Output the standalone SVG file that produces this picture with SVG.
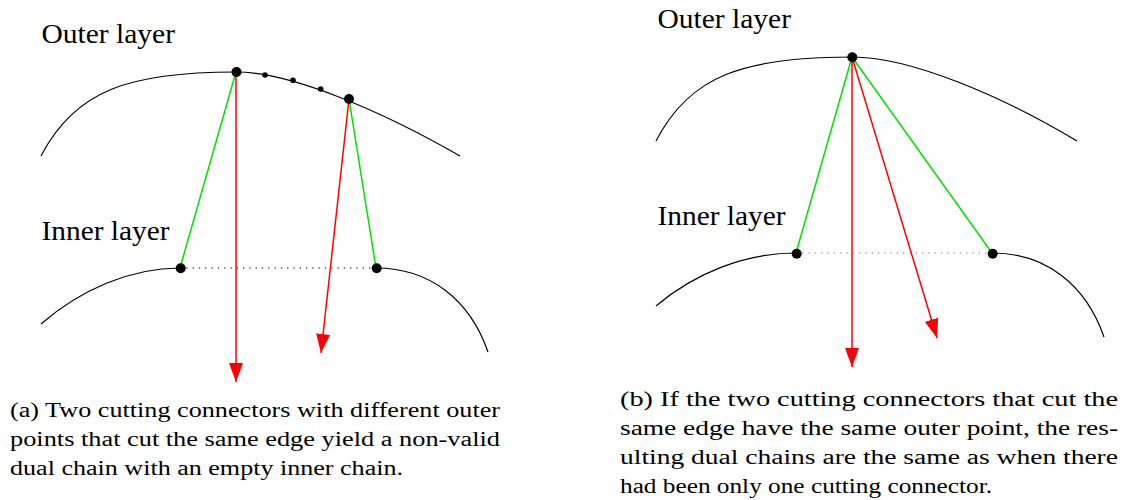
<svg xmlns="http://www.w3.org/2000/svg" width="1142" height="500" viewBox="0 0 1142 500">
<style>
.lbl{font-family:"Liberation Serif","DejaVu Serif",serif;font-size:27px;fill:#000}
.cap{font-family:"Liberation Serif","DejaVu Serif",serif;font-size:20.5px;fill:#000}
.layer{fill:none;stroke:#000;stroke-width:1.2}
.green{stroke:#00e000;stroke-width:1.5;fill:none}
.red{stroke:#ff0000;stroke-width:1.5;fill:none;marker-end:url(#ah)}
.dot{fill:#000}
</style>
<defs>
<marker id="ah" markerUnits="userSpaceOnUse" markerWidth="20" markerHeight="16" viewBox="0 0 20 16" refX="19" refY="8" orient="auto">
<path d="M0,1 L19,8 L0,15 Z" fill="#ff0000"/>
</marker>
</defs>
<rect width="1142" height="500" fill="#fff"/>

<g id="panel-a">
<g id="a-outer-layer">
<text class="lbl" x="41.5" y="43.3" textLength="133.5" lengthAdjust="spacingAndGlyphs">Outer layer</text>
<path class="layer" d="M41,156 C75,90 130,72 236,72 C290,72 380,110 460,156"/>
</g>
<g id="a-inner-layer">
<text class="lbl" x="41.5" y="239.5" textLength="128" lengthAdjust="spacingAndGlyphs">Inner layer</text>
<path class="layer" d="M41,324 C80,290 130,268 180,268"/>
<path class="layer" d="M376,268 C430,268 470,300 488,352"/>
<path d="M180,268 L376,268" fill="none" stroke="#000" stroke-width="1.2" stroke-dasharray="1.3 5"/>
</g>
<g id="a-connectors">
<path class="green" d="M236,72 L180,268"/>
<path class="green" d="M349,99 L376,268"/>
<path class="red" d="M236,72 L236,382"/>
<path class="red" d="M349,99 L321,353"/>
</g>
<g id="a-points">
<circle class="dot" cx="236.5" cy="72" r="5"/>
<circle class="dot" cx="265" cy="75" r="2.8"/>
<circle class="dot" cx="293" cy="80.3" r="2.8"/>
<circle class="dot" cx="320.7" cy="89" r="2.8"/>
<circle class="dot" cx="349" cy="99" r="5"/>
<circle class="dot" cx="180.7" cy="268.3" r="5"/>
<circle class="dot" cx="376.7" cy="268.3" r="5"/>
</g>
<g id="a-caption">
<text class="cap" x="10" y="416.7" textLength="490" lengthAdjust="spacingAndGlyphs">(a) Two cutting connectors with different outer</text>
<text class="cap" x="10" y="445.5" textLength="490" lengthAdjust="spacingAndGlyphs">points that cut the same edge yield a non-valid</text>
<text class="cap" x="10" y="474.5" textLength="393" lengthAdjust="spacingAndGlyphs">dual chain with an empty inner chain.</text>
</g>
</g>

<g id="panel-b">
<g id="b-outer-layer">
<text class="lbl" x="657.5" y="28" textLength="133.5" lengthAdjust="spacingAndGlyphs">Outer layer</text>
<path class="layer" d="M656,141 C690,75 745,57 852,57 C910,57 1000,95 1077,141"/>
</g>
<g id="b-inner-layer">
<text class="lbl" x="657.5" y="224.5" textLength="128" lengthAdjust="spacingAndGlyphs">Inner layer</text>
<path class="layer" d="M656,306 C695,273 745,253 796,253"/>
<path class="layer" d="M992,253 C1046,253 1086,285 1104,337"/>
<path d="M796,253 L992,253" fill="none" stroke="#777" stroke-width="1.2" stroke-dasharray="1.3 5"/>
</g>
<g id="b-connectors">
<path class="green" d="M852,57 L796,253"/>
<path class="green" d="M852,57 L992,253"/>
<path class="red" d="M852,57 L852,367"/>
<path class="red" d="M852,57 L937,338"/>
</g>
<g id="b-points">
<circle class="dot" cx="852.3" cy="57.3" r="5"/>
<circle class="dot" cx="796.7" cy="253.7" r="5"/>
<circle class="dot" cx="992.7" cy="253.7" r="5"/>
</g>
<g id="b-caption">
<text class="cap" x="620" y="406" textLength="498" lengthAdjust="spacingAndGlyphs">(b) If the two cutting connectors that cut the</text>
<text class="cap" x="620" y="435" textLength="498" lengthAdjust="spacingAndGlyphs">same edge have the same outer point, the res-</text>
<text class="cap" x="620" y="464" textLength="498" lengthAdjust="spacingAndGlyphs">ulting dual chains are the same as when there</text>
<text class="cap" x="620" y="493" textLength="372" lengthAdjust="spacingAndGlyphs">had been only one cutting connector.</text>
</g>
</g>
</svg>
